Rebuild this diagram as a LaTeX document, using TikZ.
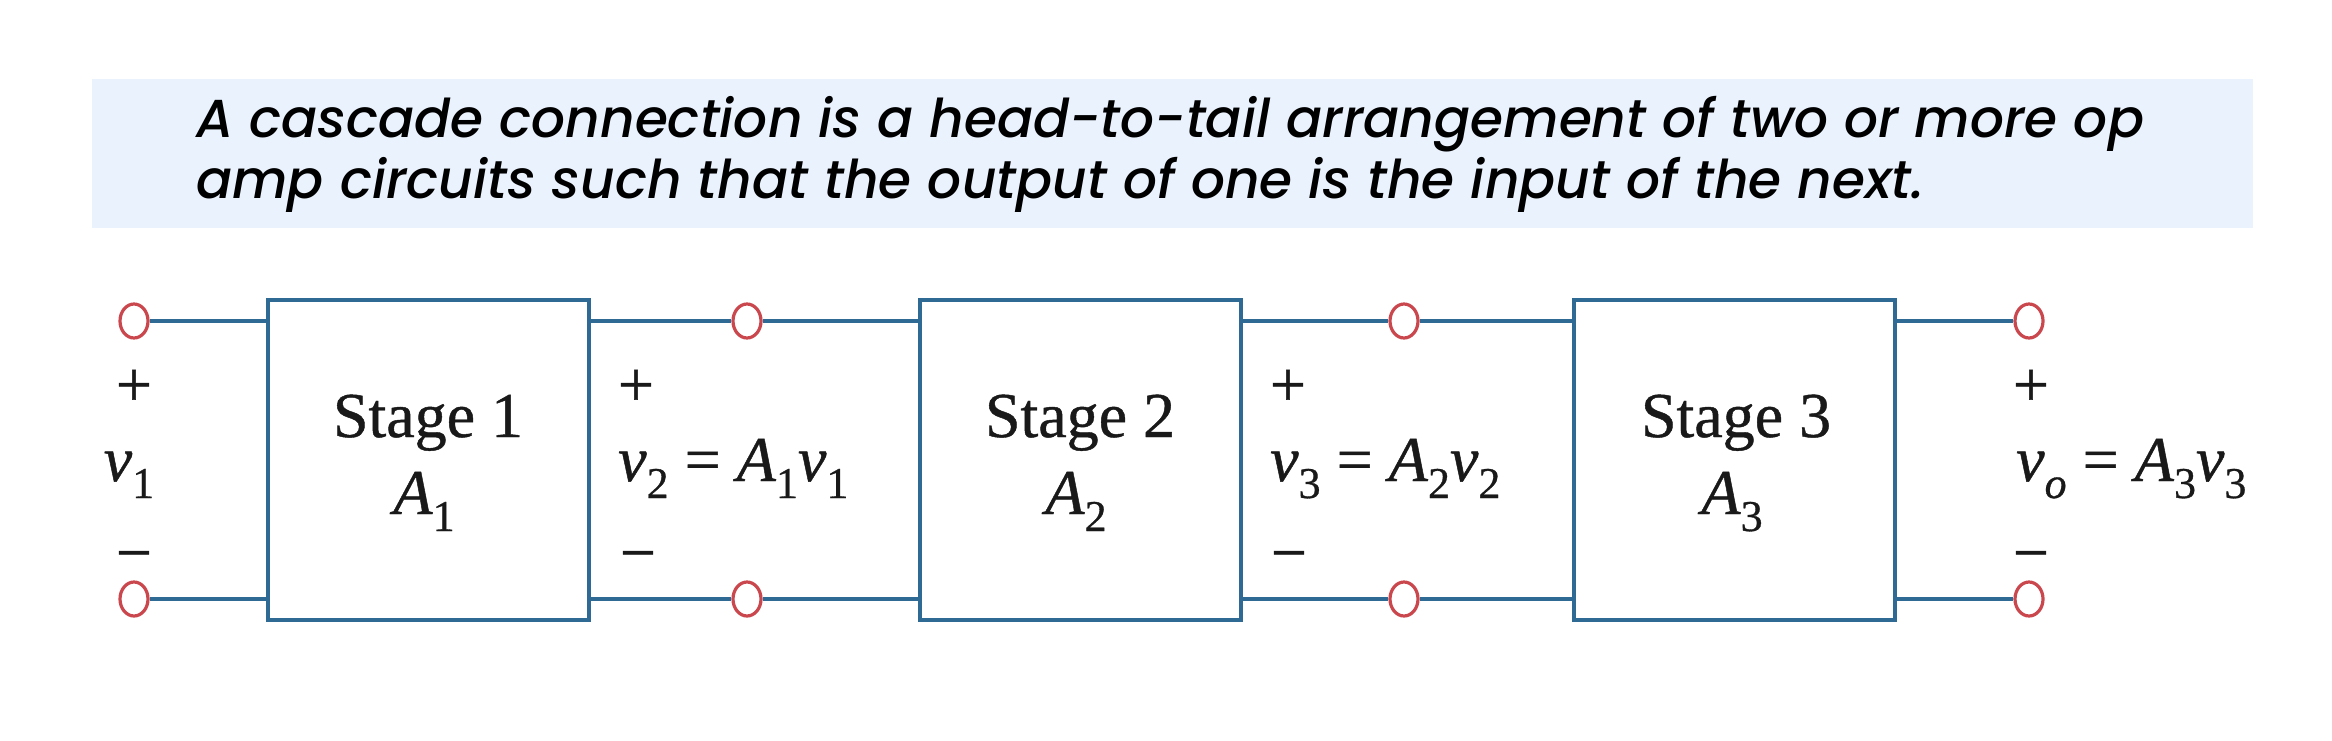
\documentclass[tikz,border=0pt]{standalone}
\usepackage{fontspec}
\usepackage{graphicx}
\setmainfont{Liberation Serif}[RawFeature={embolden=0.7}]
\newfontfamily\popfont{Poppins}[ItalicFont={Poppins Medium Italic}]
\usetikzlibrary{shapes.geometric}
\definecolor{wire}{HTML}{2E6A93}
\definecolor{term}{HTML}{C9474D}
\definecolor{banner}{HTML}{EAF2FD}
\newcommand\sbs[1]{\raisebox{-17pt}{\fontsize{44}{44}\selectfont #1}}
\newcommand\iv{\textit{v}}
\newcommand\iA{\textit{A}}
\begin{document}
\begin{tikzpicture}[x=1pt,y=-1pt,
  stagebox/.style={draw=wire,line width=4pt,minimum width=321pt,minimum height=320pt,inner sep=0pt},
  terminal/.style={ellipse,draw=term,line width=3.2pt,fill=white,minimum width=28pt,minimum height=34pt,inner sep=0pt},
  wireline/.style={draw=wire,line width=4pt},
  lbl/.style={font=\fontsize{64}{64}\selectfont,inner sep=0pt,text=black!90},
  bannertext/.style={anchor=base west,inner sep=0pt,font=\popfont\itshape\fontsize{53.4}{61}\selectfont}]
\useasboundingbox (0,0) rectangle (2332,740);
\node[fill=banner,minimum width=2161pt,minimum height=149pt,anchor=north west,inner sep=0pt] (banner) at (92,79) {};
\node[bannertext] (l1) at (196,137) {A cascade connection is a head-to-tail arrangement of two or more op};
\node[bannertext] (l2) at (196,198) {amp circuits such that the output of one is the input of the next.};
% stages
\node[stagebox] (s1) at (428,460) {};
\node[stagebox] (s2) at (1080,460) {};
\node[stagebox] (s3) at (1734,460) {};
\node[lbl,anchor=base] (n1) at (428,437) {Stage 1};
\node[lbl,anchor=base] (a1) at (424,514) {\iA\sbs{1}};
\node[lbl,anchor=base] (n2) at (1080,437) {Stage 2};
\node[lbl,anchor=base] (a2) at (1076,514) {\iA\sbs{2}};
\node[lbl,anchor=base] (n3) at (1736,437) {Stage 3};
\node[lbl,anchor=base] (a3) at (1732,514) {\iA\sbs{3}};
% terminals
\node[terminal] (t1a) at (134,321) {};
\node[terminal] (t1b) at (134,599) {};
\node[terminal] (t2a) at (747,321) {};
\node[terminal] (t2b) at (747,599) {};
\node[terminal] (t3a) at (1404,321) {};
\node[terminal] (t3b) at (1404,599) {};
\node[terminal] (t4a) at (2029,321) {};
\node[terminal] (t4b) at (2029,599) {};
% wires
\draw[wireline] (t1a) -- (t1a -| s1.west);
\draw[wireline] (t1b) -- (t1b -| s1.west);
\draw[wireline] (t2a -| s1.east) -- (t2a) -- (t2a -| s2.west);
\draw[wireline] (t2b -| s1.east) -- (t2b) -- (t2b -| s2.west);
\draw[wireline] (t3a -| s2.east) -- (t3a) -- (t3a -| s3.west);
\draw[wireline] (t3b -| s2.east) -- (t3b) -- (t3b -| s3.west);
\draw[wireline] (t4a -| s3.east) -- (t4a);
\draw[wireline] (t4b -| s3.east) -- (t4b);
% port labels
\node[lbl,anchor=base] (p1) at (134,406) {+};
\node[lbl,anchor=base] (v1) at (129,481) {\iv\sbs{1}};
\node[lbl,anchor=base] (m1) at (134,574) {−};
\node[lbl,anchor=base] (p2) at (636,406) {+};
\node[lbl,anchor=base west] (v2) at (618,481) {\iv\sbs{2} = \iA\sbs{1}\iv\sbs{1}};
\node[lbl,anchor=base] (m2) at (638,574) {−};
\node[lbl,anchor=base] (p3) at (1288,406) {+};
\node[lbl,anchor=base west] (v3) at (1270,481) {\iv\sbs{3} = \iA\sbs{2}\iv\sbs{2}};
\node[lbl,anchor=base] (m3) at (1289,574) {−};
\node[lbl,anchor=base] (p4) at (2031,406) {+};
\node[lbl,anchor=base west] (vo) at (2016,481) {\iv\raisebox{-17pt}{\fontsize{44}{44}\selectfont\itshape o} = \iA\sbs{3}\iv\sbs{3}};
\node[lbl,anchor=base] (m4) at (2031,574) {−};
\end{tikzpicture}
\end{document}
